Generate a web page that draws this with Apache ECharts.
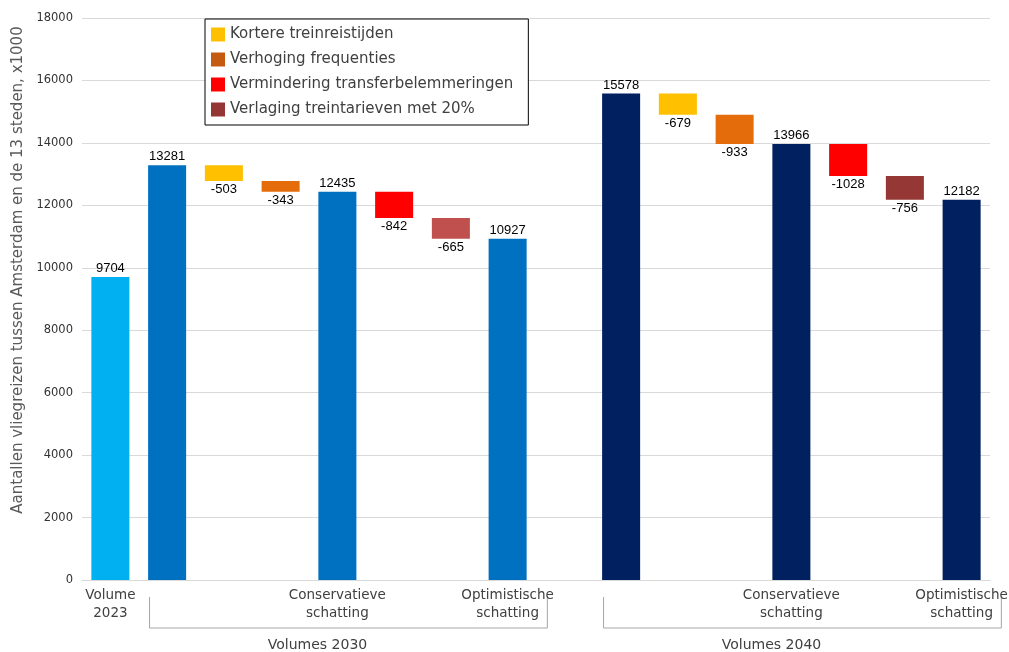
<!DOCTYPE html>
<html>
<head>
<meta charset="utf-8">
<script src="https://cdn.jsdelivr.net/npm/echarts@6/dist/echarts.min.js"></script>
<style>html,body{margin:0;padding:0;background:#fff;}#c{width:1009px;height:652px;}</style>
</head>
<body>
<div id="c"></div>
<script>
// ---- data ----
const categories = ['v2023','s2030','k2030','f2030','c2030','t2030','p2030','o2030','gap','s2040','k2040','f2040','c2040','t2040','p2040','o2040'];
const tickLabels = ['Volume\n2023','','','','Conservatieve\nschatting','','','Optimistische\nschatting','','','','','Conservatieve\nschatting','','','Optimistische\nschatting'];
const totals = [9704, 13281, null, null, 12435, null, null, 10927, null, 15578, null, null, 13966, null, null, 12182];
const totalColors = ['#00B0F0','#0070C0',null,null,'#0070C0',null,null,'#0070C0',null,'#002060',null,null,'#002060',null,null,'#002060'];
const kortere = [null,null,503,null,null,null,null,null,null,null,679,null,null,null,null,null];
const verhoging = [null,null,null,343,null,null,null,null,null,null,null,933,null,null,null,null];
const vermindering = [null,null,null,null,null,842,null,null,null,null,null,null,null,1028,null,null];
const verlaging = [null,null,null,null,null,null,665,null,null,null,null,null,null,null,756,null];
const seriesNames = ['Kortere treinreistijden','Verhoging frequenties','Vermindering transferbelemmeringen','Verlaging treintarieven met 20%'];
const deltaColors2030 = ['#FFC000','#E46C0A','#FF0000','#C0504D'];
const deltaColors2040 = ['#FFC000','#E46C0A','#FF0000','#953735'];
const legendColors = ['#FFC000','#C55A11','#FF0000','#943634'];
const groups = [{name:'Volumes 2030', from:1, to:7},{name:'Volumes 2040', from:9, to:15}];
const yTicks = {min:0, max:18000, interval:2000};

// ---- build ----
const deltas = [kortere, verhoging, vermindering, verlaging];
const base = categories.map(()=>null);
let running = null;
for (let i=0;i<categories.length;i++){
  if (totals[i]!=null){ running = totals[i]; continue; }
  for (const d of deltas){ if (d[i]!=null){ running -= d[i]; base[i] = running; } }
}
const labelFont = {fontFamily:'Liberation Sans', fontSize:13, color:'#000'};
const series = [
  {name:'base', type:'bar', stack:'w', data:base, itemStyle:{color:'transparent'}, silent:true, barWidth:'67%'},
  {name:'Totaal', type:'bar', stack:'w', barWidth:'67%',
   data: totals.map((v,i)=> v==null? null : {value:v, itemStyle:{color:totalColors[i]}}),
   label:{show:true, position:'top', distance:2, ...labelFont}}
];
deltas.forEach((d,k)=>{
  series.push({name:seriesNames[k], type:'bar', stack:'w', barWidth:'67%',
    itemStyle:{color:legendColors[k]},
    data: d.map((v,i)=> v==null? null : {value:v, itemStyle:{color: i<8 ? deltaColors2030[k] : deltaColors2040[k]}}),
    label:{show:true, position:'bottom', distance:2, ...labelFont, formatter:p=>'-'+p.value}});
});

const chart = echarts.init(document.getElementById('c'), null, {renderer:'canvas'});
chart.setOption({
  animation:false,
  grid:{left:82, right:19, top:18, bottom:72, containLabel:false, outerBoundsMode:'none'},
  legend:{
    data: seriesNames.map((n,k)=>({name:n, itemStyle:{color:legendColors[k]}})),
    icon:'rect',
    orient:'vertical', left:205, top:19, itemWidth:14, itemHeight:14, itemGap:10,
    borderColor:'#000', borderWidth:1, padding:[8,15,8,6], backgroundColor:'#fff',
    textStyle:{fontFamily:'DejaVu Sans', fontSize:15, color:'#404040'}
  },
  xAxis:{type:'category', data:categories,
    axisLine:{lineStyle:{color:'#d9d9d9'}}, axisTick:{show:false},
    axisLabel:{interval:0, formatter:(v,i)=>tickLabels[i], fontFamily:'DejaVu Sans', fontSize:13.5, color:'#404040', lineHeight:18, margin:6}},
  yAxis:{type:'value', min:yTicks.min, max:yTicks.max, interval:yTicks.interval,
    name:'Aantallen vliegreizen tussen Amsterdam en de 13 steden, x1000', nameLocation:'middle', nameGap:56,
    nameTextStyle:{fontFamily:'DejaVu Sans', fontSize:15, color:'#595959', padding:[0,0,0,58]},
    axisLine:{show:false}, axisTick:{show:false},
    splitLine:{lineStyle:{color:'#d9d9d9'}},
    axisLabel:{fontFamily:'DejaVu Sans', fontSize:11.5, color:'#333', margin:9, formatter:v=>String(v)}},
  series
});

// group brackets below the axis, positioned from the category scale
const step = chart.convertToPixel({xAxisIndex:0}, categories[1]) - chart.convertToPixel({xAxisIndex:0}, categories[0]);
const y0 = chart.convertToPixel({yAxisIndex:0}, 0);
const graphics = [];
groups.forEach(g=>{
  const xs = chart.convertToPixel({xAxisIndex:0}, categories[g.from]) - 0.31*step;
  const xe = chart.convertToPixel({xAxisIndex:0}, categories[g.to]) + 0.7*step;
  graphics.push({type:'polyline', shape:{points:[[xs,y0+17],[xs,y0+48],[xe,y0+48],[xe,y0+17]]}, style:{stroke:'#a6a6a6', lineWidth:1, fill:null}});
  graphics.push({type:'text', x: chart.convertToPixel({xAxisIndex:0}, categories[g.from]) + 2.65*step, y: y0+65,
    style:{text:g.name, fontFamily:'DejaVu Sans', fontSize:14, fill:'#404040', align:'center', verticalAlign:'middle'}});
});
chart.setOption({graphic:graphics});
</script>
</body>
</html>
